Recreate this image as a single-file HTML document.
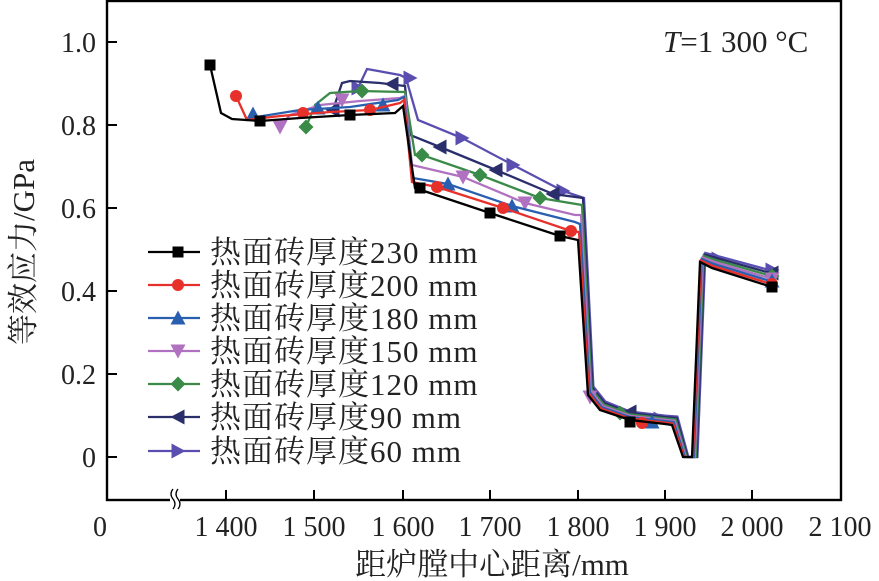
<!DOCTYPE html>
<html><head><meta charset="utf-8"><style>
html,body{margin:0;padding:0;background:#fff}
svg{display:block}
text{font-family:"Liberation Serif","Noto Serif CJK SC","Noto Sans CJK SC",serif;fill:#222}
</style></head><body>
<svg id="s" width="879" height="581" viewBox="0 0 879 581" xmlns="http://www.w3.org/2000/svg">
<rect x="107" y="1" width="734" height="499" fill="none" stroke="#000" stroke-width="2.4"/>
<g stroke="#000" stroke-width="2">
<line x1="107" y1="42" x2="117" y2="42"/><line x1="107" y1="125" x2="117" y2="125"/><line x1="107" y1="208" x2="117" y2="208"/><line x1="107" y1="291" x2="117" y2="291"/><line x1="107" y1="374" x2="117" y2="374"/><line x1="107" y1="457" x2="117" y2="457"/>
<line x1="226" y1="500" x2="226" y2="490"/><line x1="314" y1="500" x2="314" y2="490"/><line x1="403" y1="500" x2="403" y2="490"/><line x1="490" y1="500" x2="490" y2="490"/><line x1="578" y1="500" x2="578" y2="490"/><line x1="665" y1="500" x2="665" y2="490"/><line x1="752" y1="500" x2="752" y2="490"/>
</g>
<rect x="170" y="488" width="10" height="22" fill="#fff"/>
<path d="M173 489 q-4 5 0 10 q4 5 0 10 M178 489 q-4 5 0 10 q4 5 0 10" fill="none" stroke="#000" stroke-width="1.3"/>
<g font-size="28" text-anchor="end">
<text x="96" y="52">1.0</text><text x="96" y="135">0.8</text><text x="96" y="218">0.6</text><text x="96" y="301">0.4</text><text x="96" y="384">0.2</text><text x="96" y="467">0</text>
</g>
<g font-size="28" text-anchor="middle">
<text x="100" y="536">0</text><text x="226" y="536">1 400</text><text x="314" y="536">1 500</text><text x="403" y="536">1 600</text><text x="490" y="536">1 700</text><text x="578" y="536">1 800</text><text x="665" y="536">1 900</text><text x="752" y="536">2 000</text><text x="840" y="536">2 100</text>
</g>
<text x="492" y="575" font-size="31" text-anchor="middle">距炉膛中心距离/mm</text>
<text transform="translate(34,252) rotate(-90)" font-size="31" text-anchor="middle">等效应力/GPa</text>
<text x="663" y="52" font-size="31"><tspan font-style="italic">T</tspan>=1 300 °C</text>
<g id="data"></g>
<g id="leg"></g>
</svg>
<script>
var C=["#000","#e8302a","#2a5fb0","#b072c0","#3a8a48","#2a2e6a","#5a4fb0"];
var M=["sq","ci","tu","td","di","tl","tr"];
var L=["230","200","180","150","120","90","60"];
var A=[
[[210,65],[221,113],[232,119],[260,121],[300,118],[350,115],[395,113],[403,106],[415,188],[490,213],[560,236],[578,240]],
[[236,96],[247,120],[280,116],[330,112],[370,110],[400,103],[404,100],[412,182],[437,187],[503,208],[571,231],[579,232]],
[[250,118],[300,110],[350,107],[398,100],[404,97],[413,178],[448,184],[512,206],[575,222],[580,224]],
[[280,127],[290,115],[320,105],[360,101],[400,98],[405,96],[412,165],[463,177],[525,203],[575,215],[581,215]],
[[306,127],[315,105],[330,93],[360,91],[405,92],[415,155],[422,155],[480,175],[540,198],[582,205]],
[[333,110],[342,83],[350,81],[380,83],[405,86],[410,135],[440,147],[496,170],[553,194],[583,198]],
[[358,88],[367,69],[400,75],[406,78],[418,120],[462,138],[513,165],[563,191],[584,198]]];
var MK=[[[210,65],[260,121],[350,115],[420,188],[490,213],[560,236],[630,422],[772,287]],
[[236,96],[303,113],[370,110],[437,187],[503,208],[571,231],[642,423],[772,284]],
[[253,114],[318,108],[383,105],[448,184],[512,206],[652,422],[772,281]],
[[280,127],[342,100],[463,177],[525,203],[590,397],[772,279]],
[[306,127],[362,91],[422,155],[480,175],[540,198],[620,413],[772,276]],
[[333,110],[392,84],[440,147],[496,170],[553,194],[630,412],[772,273]],
[[358,88],[410,78],[462,138],[513,165],[563,191],[660,419],[718,259],[772,270]]];
function mk(t,x,y,c){var s=6.5,p;
if(t=="sq")return '<rect x="'+(x-s+1)+'" y="'+(y-s+1)+'" width="'+(2*s-2)+'" height="'+(2*s-2)+'" fill="'+c+'"/>';
if(t=="ci")return '<circle cx="'+x+'" cy="'+y+'" r="'+(s-0.5)+'" fill="'+c+'"/>';
if(t=="tu")p=[[x,y-s-1],[x+s+1,y+s],[x-s-1,y+s]];
if(t=="td")p=[[x,y+s+1],[x+s+1,y-s],[x-s-1,y-s]];
if(t=="di")p=[[x,y-s-1],[x+s+1,y],[x,y+s+1],[x-s-1,y]];
if(t=="tl")p=[[x-s-1,y],[x+s,y-s-1],[x+s,y+s+1]];
if(t=="tr")p=[[x+s+1,y],[x-s,y-s-1],[x-s,y+s+1]];
return '<polygon points="'+p.map(function(a){return a.join(",")}).join(" ")+'" fill="'+c+'"/>';}
var h="";
for(var i=6;i>=0;i--){var dx=i*0.9,dy=-i*1.4,p=A[i].slice();
p=p.concat([[588+dx,395+dy],[600+dx,410+dy],[630,420+dy],[665,424+dy],[672+dx,425+dy],[683+dx,457],[692+dx,457],[700+dx,262-i*1.5],[712+dx,268-i*2],[772,287-i*2.7]]);
h+='<polyline points="'+p.map(function(a){return a.join(",")}).join(" ")+'" fill="none" stroke="'+C[i]+'" stroke-width="2.3"/>';
MK[i].forEach(function(q){h+=mk(M[i],q[0],q[1],C[i]);});}
document.getElementById("data").innerHTML=h;
var g="",Y=[252,285,318,351,384,417,451];
for(var i=0;i<7;i++){g+='<line x1="148" x2="200" y1="'+Y[i]+'" y2="'+Y[i]+'" stroke="'+C[i]+'" stroke-width="2.3"/>'+mk(M[i],178,Y[i],C[i])+
'<text x="210" y="'+(Y[i]+11)+'" font-size="31" letter-spacing="1">热面砖厚度'+L[i]+' mm</text>';}
document.getElementById("leg").innerHTML=g;
</script>
</body></html>
